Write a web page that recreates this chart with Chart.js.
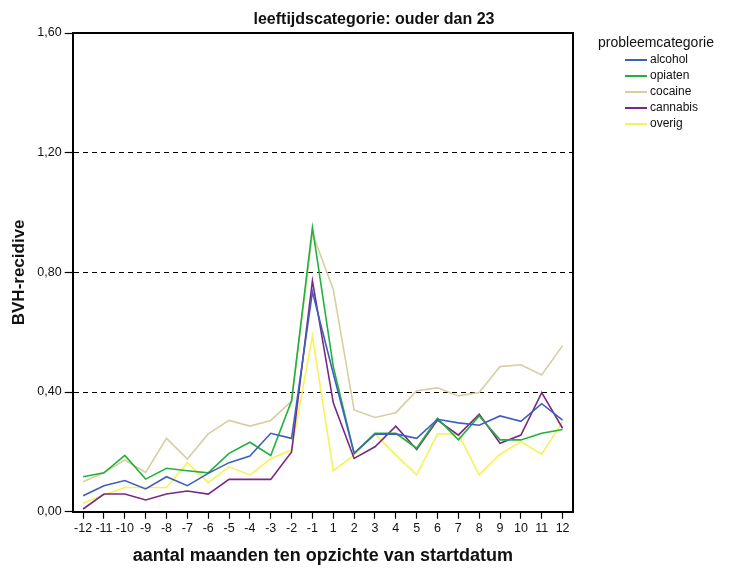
<!DOCTYPE html>
<html>
<head>
<meta charset="utf-8">
<script src="https://cdn.jsdelivr.net/npm/chart.js@4/dist/chart.umd.min.js"></script>
<style>
  html, body { margin: 0; padding: 0; background: #fff; }
  #wrap { position: relative; width: 730px; height: 569px; }
  canvas { position: absolute; left: 0; top: 0; }
  #legend { position: absolute; left: 598px; top: 33px; font-family: "Liberation Sans", Arial, sans-serif; color: #111; }
  #legend .ttl { font-size: 14px; height: 18px; line-height: 18px; }
  #legend .item { position: relative; height: 16px; line-height: 16px; font-size: 12px; padding-left: 52px; }
  #legend .item span.ln { position: absolute; left: 27px; top: 8px; width: 22px; height: 0; border-top: 2px solid; }
</style>
</head>
<body>
<div id="wrap">
  <canvas id="c" width="730" height="569"></canvas>
  <div id="legend"></div>
</div>
<script>
const chartTitle = "leeftijdscategorie: ouder dan 23";
const legendTitle = "probleemcategorie";
const xTitle = "aantal maanden ten opzichte van startdatum";
const yTitle = "BVH-recidive";
const months = ["-12","-11","-10","-9","-8","-7","-6","-5","-4","-3","-2","-1","1","2","3","4","5","6","7","8","9","10","11","12"];
const yTicks = [0, 0.4, 0.8, 1.2, 1.6];
const seriesNames = ["alcohol", "opiaten", "cocaine", "cannabis", "overig"];
const seriesColors = ["#3f5fbf", "#22b23c", "#d6cfa0", "#7a2883", "#f8f25a"];
const alcohol  = [0.053,0.087,0.104,0.076,0.117,0.087,0.128,0.164,0.186,0.262,0.245,0.735,0.462,0.195,0.259,0.260,0.245,0.309,0.297,0.289,0.320,0.302,0.361,0.306];
const opiaten  = [0.117,0.130,0.188,0.109,0.145,0.137,0.130,0.195,0.232,0.188,0.371,0.950,0.485,0.195,0.262,0.262,0.212,0.312,0.240,0.320,0.240,0.240,0.262,0.275];
const cocaine  = [0.100,0.130,0.173,0.131,0.245,0.176,0.260,0.305,0.286,0.305,0.370,0.930,0.743,0.340,0.315,0.331,0.404,0.414,0.387,0.398,0.485,0.491,0.457,0.555];
const cannabis = [0.009,0.059,0.059,0.039,0.059,0.069,0.059,0.108,0.108,0.108,0.200,0.772,0.364,0.178,0.217,0.286,0.208,0.306,0.256,0.326,0.229,0.256,0.398,0.279];
const overig   = [0.028,0.056,0.081,0.081,0.081,0.164,0.097,0.150,0.123,0.177,0.206,0.588,0.137,0.189,0.259,0.190,0.123,0.260,0.260,0.123,0.192,0.234,0.192,0.301];
const seriesData = [alcohol, opiaten, cocaine, cannabis, overig];

const FONT = "'Liberation Sans', Arial, sans-serif";

// HTML legend
const lg = document.getElementById('legend');
let html = '<div class="ttl">' + legendTitle + '</div>';
seriesNames.forEach((n, i) => {
  html += '<div class="item"><span class="ln" style="border-color:' + seriesColors[i] + '"></span>' + n + '</div>';
});
lg.innerHTML = html;

const framePlugin = {
  id: 'frame',
  afterDraw(chart) {
    const {ctx, chartArea: a} = chart;
    ctx.save();
    ctx.strokeStyle = '#000';
    ctx.lineWidth = 2;
    ctx.beginPath();
    ctx.moveTo(a.left, a.top);
    ctx.lineTo(a.right, a.top);
    ctx.lineTo(a.right, a.bottom);
    ctx.stroke();
    ctx.fillStyle = '#111';
    ctx.font = "bold 16px " + FONT;
    ctx.textAlign = 'center';
    ctx.textBaseline = 'alphabetic';
    ctx.fillText(chartTitle, 374, 24);
    ctx.restore();
  }
};

new Chart(document.getElementById('c'), {
  type: 'line',
  data: {
    labels: months,
    datasets: seriesNames.map((n, i) => ({
      label: n,
      data: seriesData[i],
      borderColor: seriesColors[i],
      backgroundColor: seriesColors[i],
      borderWidth: 1.6,
      pointRadius: 0,
      tension: 0,
      fill: false
    }))
  },
  options: {
    responsive: false,
    animation: false,
    layout: { padding: { top: 33, right: 157, left: 0, bottom: 0 } },
    plugins: {
      legend: { display: false },
      title: { display: false },
      tooltip: { enabled: false }
    },
    scales: {
      x: {
        type: 'category',
        offset: true,
        afterFit(s) { s.height = 57.3; },
        grid: { display: true, drawOnChartArea: false, drawTicks: true, tickLength: 7, offset: false, tickColor: '#000', tickWidth: 1.2 },
        border: { display: true, color: '#000', width: 2 },
        ticks: { color: '#111', font: { family: FONT, size: 12.5 }, padding: 2, maxRotation: 0, autoSkip: false },
        title: { display: true, text: xTitle, color: '#111', font: { family: FONT, size: 18, weight: 'bold' }, padding: { top: 4, bottom: 2 } }
      },
      y: {
        min: 0,
        max: 1.6,
        afterFit(s) { s.width = 72.7; },
        afterBuildTicks(s) { s.ticks = yTicks.map(v => ({ value: v })); },
        grid: {
          drawOnChartArea: true,
          drawTicks: true,
          tickLength: 8,
          tickColor: '#000',
          tickWidth: 1.2,
          lineWidth: 1,
          color: ctx => (ctx.tick && ctx.tick.value > 0) ? '#000' : 'rgba(0,0,0,0)'
        },
        border: { display: true, color: '#000', width: 2, dash: [5, 4] },
        ticks: {
          color: '#111',
          font: { family: FONT, size: 12.5 },
          padding: 3,
          callback: v => Number(v).toFixed(2).replace('.', ',')
        },
        title: { display: true, text: yTitle, color: '#111', font: { family: FONT, size: 17, weight: 'bold' }, padding: { top: 9, bottom: 4 } }
      }
    }
  },
  plugins: [framePlugin]
});
</script>
</body>
</html>
